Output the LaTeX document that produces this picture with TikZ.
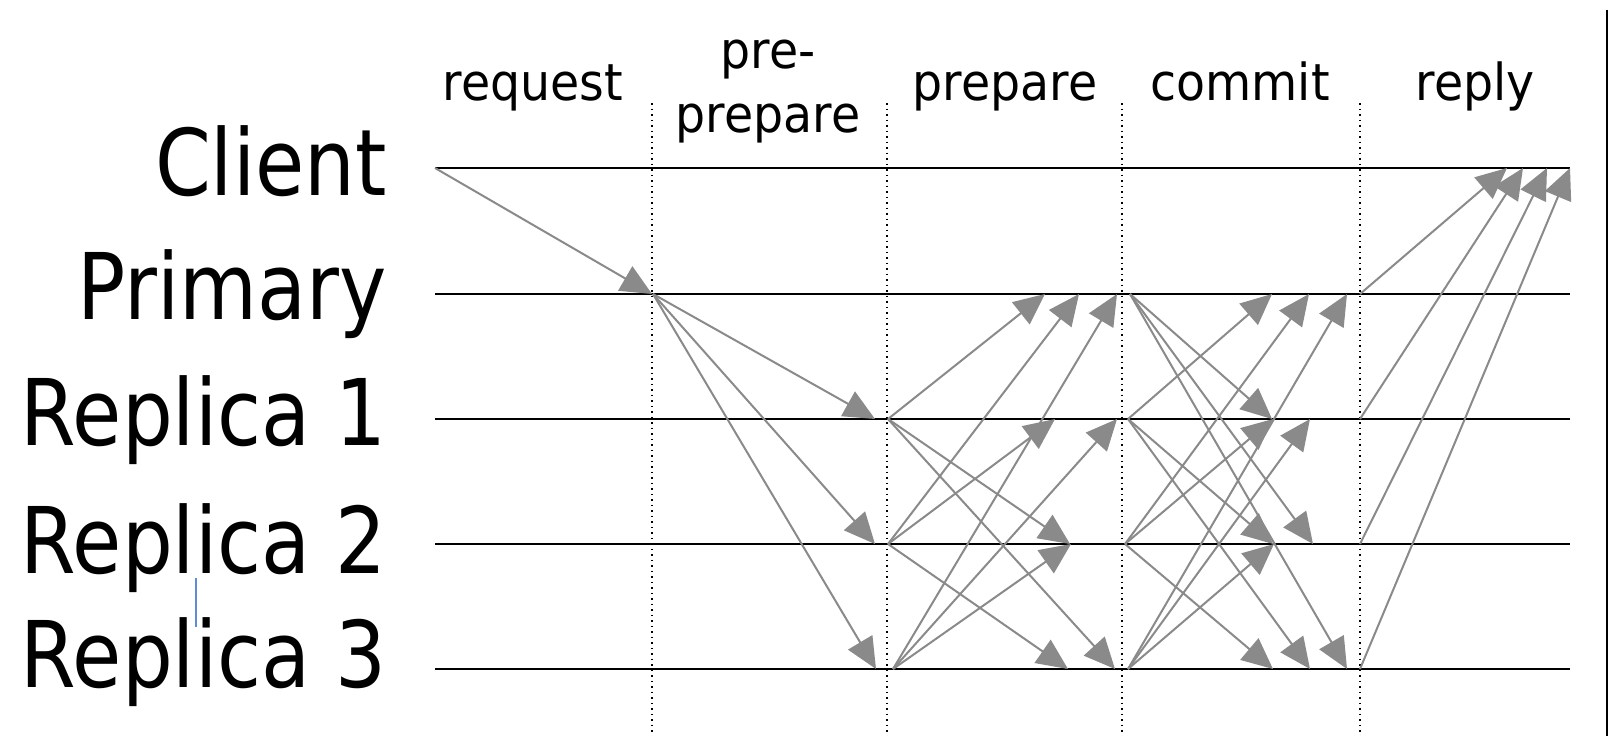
\documentclass[tikz,border=0pt]{standalone}
\usepackage{fontspec}
\usetikzlibrary{arrows.meta}

\newfontfamily\namefont[FakeStretch=0.87]{DejaVu Sans}
\newfontfamily\stepfont[FakeStretch=0.93]{DejaVu Sans}
\definecolor{msggray}{RGB}{138,138,138}
\definecolor{cursorblue}{RGB}{95,140,215}

\begin{document}
\begin{tikzpicture}[x=1pt,y=-1pt,
    proc/.style={anchor=base east,inner sep=0pt,font=\namefont\fontsize{92}{92}\selectfont},
    phase/.style={anchor=base,inner sep=0pt,align=center,font=\stepfont\fontsize{51}{64}\selectfont},
    life/.style={line width=2.4pt},
    sep/.style={line width=1.8pt,dash pattern=on 1.8pt off 3.7pt},
    msg/.style={msggray,line width=2pt,-{Triangle[length=31pt,width=28pt]}}]
  \useasboundingbox (0,0) rectangle (1610,736);

  % process names
  \node[proc] (client)  at (387,195) {Client};
  \node[proc] (primary) at (387,319) {Primary};
  \node[proc] (rep1)    at (387,445) {Replica 1};
  \node[proc] (rep2)    at (387,573) {Replica 2};
  \node[proc] (rep3)    at (387,687) {Replica 3};
  \draw[cursorblue,line width=1.2pt] (196,578) -- (196,627);

  % phase names (two-line node sits on its last line)
  \node[phase] (request) at (533,100)  {request};
  \node[phase] (preprep) at (768,132)  {pre-\\prepare};
  \node[phase] (prepare) at (1005,100) {prepare};
  \node[phase] (commit)  at (1240,100) {commit};
  \node[phase] (reply)   at (1475,100) {reply};

  % phase borders
  \foreach \x in {652,887,1122,1360}
    \draw[sep] (\x,103) -- (\x,736);

  % time lines
  \coordinate (C)  at (435,168);
  \coordinate (P)  at (435,294);
  \coordinate (R1) at (435,419);
  \coordinate (R2) at (435,544);
  \coordinate (R3) at (435,669);
  \foreach \n in {C,P,R1,R2,R3}
    \draw[life] (\n) -- (1570,0 |- \n);

  % messages: sender/x/receiver/x
  \foreach \a/\xa/\b/\xb in {C/435/P/652,
      P/653/R1/875, P/653/R2/875, P/653/R3/876,
      R1/888/P/1045, R1/888/R2/1070, R1/888/R3/1115,
      R2/888/P/1079, R2/888/R1/1055, R2/888/R3/1068,
      R3/893/P/1117, R3/893/R1/1117, R3/893/R2/1071,
      P/1130/R1/1272, P/1130/R2/1313, P/1130/R3/1347,
      R1/1128/P/1272, R1/1128/R2/1273, R1/1128/R3/1310,
      R2/1125/P/1309, R2/1125/R1/1273, R2/1125/R3/1273,
      R3/1128/P/1347, R3/1128/R1/1310, R3/1128/R2/1274,
      P/1360/C/1507, R1/1360/C/1523, R2/1360/C/1547, R3/1360/C/1570}
    \draw[msg] (\xa,0 |- \a) -- (\xb,0 |- \b);

  \draw[line width=2.5pt] (1607,10) -- (1607,736);
\end{tikzpicture}
\end{document}
